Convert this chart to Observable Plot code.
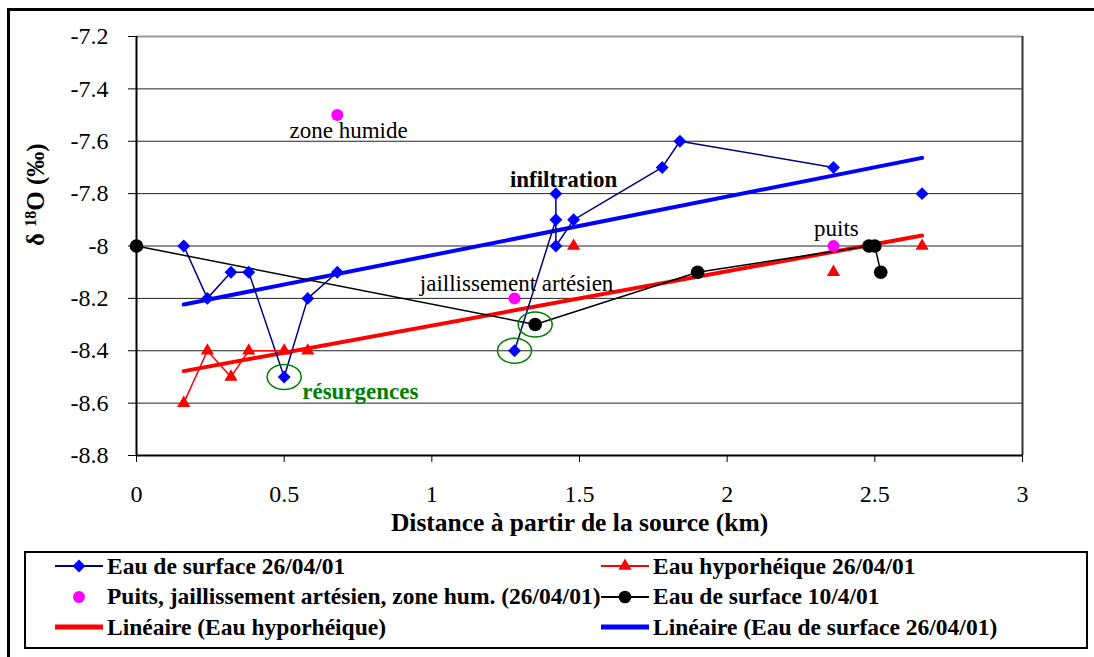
<!DOCTYPE html>
<html>
<head>
<meta charset="utf-8">
<script src="https://cdn.jsdelivr.net/npm/d3@7"></script>
<script src="https://cdn.jsdelivr.net/npm/@observablehq/plot@0.6"></script>
<style>
  body { margin: 0; background: #fff; width: 1094px; height: 657px; overflow: hidden; position: relative;
         font-family: "Liberation Serif", "Times New Roman", serif; }
  #chart { position: absolute; left: 0; top: 0; }
  #frame { position: absolute; left: 7px; top: 8px; width: 1200px; height: 800px;
           border-left: 3px solid #000; border-top: 3px solid #000; pointer-events: none; z-index: 3; }
  #legend { position: absolute; left: 24px; top: 551px; width: 1060px; height: 94px;
            border: 2px solid #000; background: #fff; z-index: 2; }
  .item { position: absolute; display: flex; align-items: center; height: 30px; font-weight: bold;
          font-size: 23.5px; white-space: nowrap; color: #000; }
  .item svg { flex: none; margin-right: 4px; }
</style>
</head>
<body>
<div id="chart"></div>
<div id="legend"></div>
<div id="frame"></div>
<script>
// δ18O along the stream, distance from the spring (km). NaN = blank cell (breaks the line).
const surfaceKm   = [0.16, 0.24, 0.32, 0.38, 0.50, 0.58, 0.68, NaN, 1.28, 1.42, 1.42, 1.42, 1.48, 1.78, 1.84, 2.36, NaN, 2.66];
const surfaceD18O = [-8.0, -8.2, -8.1, -8.1, -8.5, -8.2, -8.1, NaN, -8.4, -7.9, -7.8, -8.0, -7.9, -7.7, -7.6, -7.7, NaN, -7.8];

const hypoKm   = [0.16, 0.24, 0.32, 0.38, 0.50, 0.58, NaN, 1.48, NaN, 2.36, NaN, 2.66];
const hypoD18O = [-8.6, -8.4, -8.5, -8.4, -8.4, -8.4, NaN, -8.0, NaN, -8.1, NaN, -8.0];

const wellKm   = [0.68, 1.28, 2.36];
const wellD18O = [-7.5, -8.2, -8.0];

const surface10Km   = [0, 1.35, 1.90, 2.48, 2.50, 2.52];
const surface10D18O = [-8.0, -8.3, -8.1, -8.0, -8.0, -8.1];

// points circled as resurgences
const circledKm   = [0.50, 1.28, 1.35];
const circledD18O = [-8.5, -8.4, -8.3];

// text notes on the chart
const noteText = ["zone humide", "jaillissement artésien", "puits"];
const noteKm   = [0.718, 1.287, 2.370];
const noteD18O = [-7.561, -8.145, -7.935];
const boldNoteText = ["infiltration"];
const boldNoteKm   = [1.446];
const boldNoteD18O = [-7.748];
const greenNoteText = ["résurgences"];
const greenNoteKm   = [0.758];
const greenNoteD18O = [-8.557];

const xTicks = [0, 0.5, 1, 1.5, 2, 2.5, 3];
const yTicks = [-7.2, -7.4, -7.6, -7.8, -8.0, -8.2, -8.4, -8.6, -8.8];

const xTitle = "Distance à partir de la source (km)";
const yTitle = "δ 18O (‰)";

const legendLabels = [
  "Eau de surface 26/04/01",
  "Eau hyporhéique 26/04/01",
  "Puits, jaillissement artésien, zone hum. (26/04/01)",
  "Eau de surface 10/4/01",
  "Linéaire (Eau hyporhéique)",
  "Linéaire (Eau de surface 26/04/01)"
];

const rows = (xs, ys) => xs.map((x, i) => ({x, y: ys[i]}));
const surface = rows(surfaceKm, surfaceD18O);
const hypo = rows(hypoKm, hypoD18O);
const wells = rows(wellKm, wellD18O);
const surface10 = rows(surface10Km, surface10D18O);
const circled = rows(circledKm, circledD18O);
const valid = d => Number.isFinite(d.x) && Number.isFinite(d.y);

// ellipse outline used to circle points
const ellipse = {
  draw(ctx) {
    const rx = 17, ry = 12.5, k = 0.5523;
    ctx.moveTo(rx, 0);
    ctx.bezierCurveTo(rx, ry * k, rx * k, ry, 0, ry);
    ctx.bezierCurveTo(-rx * k, ry, -rx, ry * k, -rx, 0);
    ctx.bezierCurveTo(-rx, -ry * k, -rx * k, -ry, 0, -ry);
    ctx.bezierCurveTo(rx * k, -ry, rx, -ry * k, rx, 0);
    ctx.closePath();
  }
};

const NAVY = "#000080", BLUE = "#0000ff", RED = "#ff0000", MAGENTA = "#ff00ff", GREEN = "#008000";
const font = "'Liberation Serif', 'Times New Roman', serif";
const fmt = d => String(+(+d).toFixed(1));

const chart = Plot.plot({
  width: 1094,
  height: 545,
  marginLeft: 136,
  marginRight: 72,
  marginTop: 36,
  marginBottom: 90,
  style: {fontFamily: font, fontSize: "24px", background: "#fff"},
  x: {domain: [0, 3], axis: null},
  y: {domain: [-8.8, -7.2], axis: null},
  marks: [
    // grid and plot-area border
    Plot.ruleY(yTicks.slice(1, -1), {stroke: "#222", strokeWidth: 1}),
    Plot.ruleY([-7.2], {stroke: "#999", strokeWidth: 2}),
    Plot.ruleX([3], {stroke: "#333", strokeWidth: 2}),
    Plot.ruleX([0], {stroke: "#000", strokeWidth: 2}),
    Plot.ruleY([-8.8], {stroke: "#000", strokeWidth: 2}),
    Plot.axisY({ticks: yTicks, tickSize: 8, tickPadding: 20, tickFormat: fmt, fontSize: 24, label: null}),
    Plot.axisX({ticks: xTicks, tickSize: 7, tickPadding: 22, tickFormat: d => String(d), fontSize: 24, label: null}),

    // linear trends
    Plot.linearRegressionY(surface.filter(valid), {x: "x", y: "y", stroke: BLUE, strokeWidth: 4, ci: 0}),
    Plot.linearRegressionY(hypo.filter(valid), {x: "x", y: "y", stroke: RED, strokeWidth: 4, ci: 0}),

    // series lines
    Plot.line(surface, {x: "x", y: "y", stroke: NAVY, strokeWidth: 1.5}),
    Plot.line(hypo, {x: "x", y: "y", stroke: RED, strokeWidth: 1.5}),
    Plot.line(surface10, {x: "x", y: "y", stroke: "#000", strokeWidth: 1.5}),

    // markers
    Plot.dot(surface, {x: "x", y: "y", symbol: "diamond2", r: 5.8, fill: BLUE, stroke: "none"}),
    Plot.dot(hypo, {x: "x", y: "y", symbol: "triangle", r: 4.9, fill: RED, stroke: "none"}),
    Plot.dot(wells, {x: "x", y: "y", r: 6, fill: MAGENTA, stroke: "none"}),
    Plot.dot(surface10, {x: "x", y: "y", r: 6.8, fill: "#000", stroke: "none"}),
    Plot.dot(circled, {x: "x", y: "y", symbol: ellipse, r: 5, fill: "none", stroke: GREEN, strokeWidth: 1.5}),

    // notes
    Plot.text(noteText, {x: (d, i) => noteKm[i], y: (d, i) => noteD18O[i], text: d => d, fontSize: 23, fill: "#000"}),
    Plot.text(boldNoteText, {x: (d, i) => boldNoteKm[i], y: (d, i) => boldNoteD18O[i], text: d => d, fontSize: 23, fontWeight: "bold", fill: "#000"}),
    Plot.text(greenNoteText, {x: (d, i) => greenNoteKm[i], y: (d, i) => greenNoteD18O[i], text: d => d, fontSize: 23, fontWeight: "bold", fill: GREEN}),

    // axis titles
    Plot.text([xTitle], {frameAnchor: "bottom", dy: 75, text: d => d, fontSize: 25.5, fontWeight: "bold", fill: "#000"}),
    Plot.text([yTitle], {frameAnchor: "left", dx: -101, rotate: -90, text: d => d, fontSize: 25, fontWeight: "bold", fill: "#000"})
  ]
});
document.getElementById("chart").appendChild(chart);

// superscript mass number in the y title
d3.select(chart).selectAll("text").filter(function () { return this.textContent === yTitle; })
  .each(function () {
    const t = d3.select(this).text(null);
    t.append("tspan").text("δ ");
    t.append("tspan").attr("font-size", 16).attr("dy", "-0.5em").text("18");
    t.append("tspan").attr("dy", "0.35em").text("O (‰)");
  });

// legend
const swatches = [
  {line: NAVY, lw: 2, symbol: d3.symbolDiamond2, r: 5.8, fill: BLUE},
  {line: RED, lw: 2, symbol: d3.symbolTriangle, r: 4.9, fill: RED},
  {line: null, symbol: d3.symbolCircle, r: 6, fill: MAGENTA},
  {line: "#000", lw: 2, symbol: d3.symbolCircle, r: 6.3, fill: "#000"},
  {line: RED, lw: 5},
  {line: BLUE, lw: 5}
];
const legend = d3.select("#legend");
legendLabels.forEach((label, i) => {
  const col = i % 2, row = Math.floor(i / 2);
  const s = swatches[i];
  const item = legend.append("div").attr("class", "item")
    .style("left", (col ? 575 : 29) + "px")
    .style("top", (-2 + row * 30.5) + "px");
  const svg = item.append("svg").attr("width", 48).attr("height", 20);
  if (s.line) svg.append("line").attr("x1", 0).attr("x2", 48).attr("y1", 10).attr("y2", 10)
    .attr("stroke", s.line).attr("stroke-width", s.lw);
  if (s.symbol) svg.append("path").attr("transform", "translate(24,10)")
    .attr("d", d3.symbol(s.symbol, Math.PI * s.r * s.r)()).attr("fill", s.fill);
  item.append("span").text(label);
});
</script>
</body>
</html>
